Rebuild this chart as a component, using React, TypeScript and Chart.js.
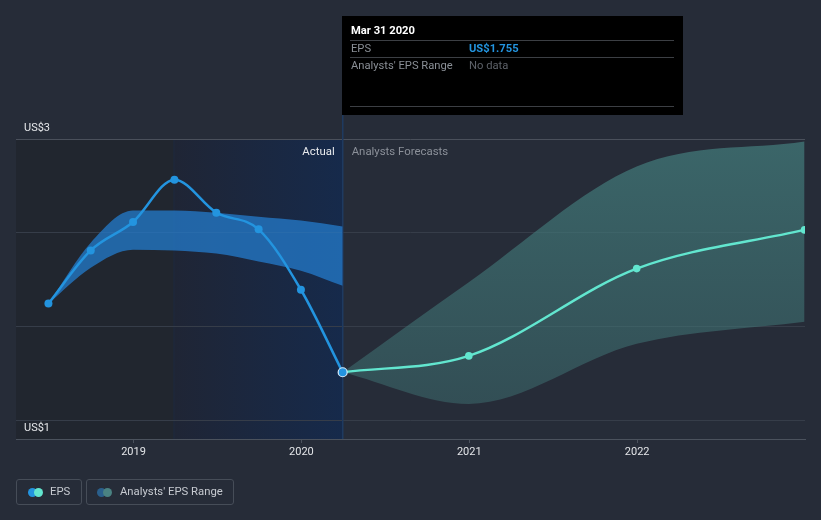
import React, { useEffect, useRef } from 'react';
import { Chart, registerables } from 'chart.js';

Chart.register(...registerables);

const actualDates = ['2018-06-30', '2018-09-30', '2018-12-31', '2019-03-31', '2019-06-30', '2019-09-30', '2019-12-31', '2020-03-31'];
const actualEps = [1.903, 2.257, 2.447, 2.729, 2.509, 2.398, 1.995, 1.445];
const actualRangeHigh = [1.903, 2.309, 2.524, 2.524, 2.509, 2.482, 2.456, 2.417];
const actualRangeLow = [1.903, 2.142, 2.262, 2.257, 2.236, 2.184, 2.122, 2.021];
const forecastDates = ['2020-03-31', '2020-12-31', '2021-12-31', '2022-12-31'];
const forecastEps = [1.445, 1.554, 2.136, 2.394];
const forecastHigh = [1.445, 2.045, 2.816, 2.983];
const forecastLow = [1.445, 1.234, 1.635, 1.782];
const yearTicks = [2019, 2020, 2021, 2022];
const yTickValues = [1, 1.125, 1.75, 2.375, 3];
const yTickLabels: Record<string, string> = { '1': 'US$1', '3': 'US$3' };

const FONT = 'Roboto, "Noto Sans", sans-serif';

function toYear(s: string): number {
  const [y, m, d] = s.split('-').map(Number);
  const start = Date.UTC(y, 0, 1);
  const end = Date.UTC(y + 1, 0, 1);
  return y + (Date.UTC(y, m - 1, d) - start) / (end - start);
}

const pts = (dates: string[], vals: number[]) => dates.map((d, i) => ({ x: toYear(d), y: vals[i] }));

const bgPlugin = {
  id: 'bgPlugin',
  beforeDraw(chart: any) {
    const { ctx, chartArea: a, scales } = chart;
    const xs = scales.x;
    const xNow = xs.getPixelForValue(toYear('2020-03-31'));
    const xHl = xs.getPixelForValue(toYear('2019-03-31'));
    ctx.save();
    ctx.fillStyle = '#262c38';
    ctx.fillRect(0, 0, chart.width, chart.height);
    ctx.fillStyle = '#21262f';
    ctx.fillRect(a.left, a.top, xNow - a.left, a.bottom - a.top);
    const g = ctx.createLinearGradient(xHl, 0, xNow, 0);
    g.addColorStop(0, '#1f2535');
    g.addColorStop(1, '#162a4b');
    ctx.fillStyle = g;
    ctx.fillRect(xHl, a.top, xNow - xHl, a.bottom - a.top);
    ctx.fillStyle = '#1c2940';
    ctx.fillRect(Math.round(xHl) - 0.5, a.top, 1, a.bottom - a.top);
    ctx.restore();
  },
  beforeDatasetsDraw(chart: any) {
    const { ctx, chartArea: a, scales } = chart;
    const xNow = scales.x.getPixelForValue(toYear('2020-03-31'));
    ctx.save();
    ctx.fillStyle = '#1e3a60';
    ctx.fillRect(Math.round(xNow) - 1, 115, 1.5, a.bottom - 115);
    ctx.restore();
  },
  afterDraw(chart: any) {
    const { ctx, chartArea: a, scales } = chart;
    const xNow = scales.x.getPixelForValue(toYear('2020-03-31'));
    ctx.save();
    ctx.textBaseline = 'middle';
    ctx.font = `11.4px ${FONT}`;
    ctx.textAlign = 'right';
    ctx.fillStyle = '#e8eaed';
    ctx.fillText('Actual', xNow - 8, a.top + 13.5);
    ctx.textAlign = 'left';
    ctx.fillStyle = '#8b9099';
    ctx.fillText('Analysts Forecasts', xNow + 9, a.top + 13.5);

    // tooltip box
    const bx = Math.round(xNow) - 1;
    ctx.fillStyle = '#000000';
    ctx.fillRect(bx, 16, 341, 99);
    ctx.fillStyle = '#3c3f44';
    ctx.fillRect(bx + 8, 40, 324, 1);
    ctx.fillRect(bx + 8, 57, 324, 1);
    ctx.fillRect(bx + 8, 106, 324, 1);
    ctx.font = `bold 11.2px ${FONT}`;
    ctx.fillStyle = '#ffffff';
    ctx.fillText('Mar 31 2020', bx + 9, 31);
    ctx.font = `11.2px ${FONT}`;
    ctx.fillStyle = '#8a8f96';
    ctx.fillText('EPS', bx + 9, 49);
    ctx.fillText("Analysts' EPS Range", bx + 9, 66);
    ctx.font = `bold 11.2px ${FONT}`;
    ctx.fillStyle = '#2394df';
    ctx.fillText('US$1.755', bx + 127, 49);
    ctx.font = `11.2px ${FONT}`;
    ctx.fillStyle = '#5d6168';
    ctx.fillText('No data', bx + 127, 66);
    ctx.restore();
  },
};

export default function App() {
  const ref = useRef<HTMLCanvasElement | null>(null);

  useEffect(() => {
    if (!ref.current) return;
    const nA = actualDates.length;
    const chart = new Chart(ref.current, {
      type: 'line',
      data: {
        datasets: [
          {
            label: 'EPS',
            data: pts(actualDates, actualEps),
            borderColor: '#2394df',
            borderWidth: 2.5,
            cubicInterpolationMode: 'monotone',
            pointRadius: actualEps.map((_, i) => (i === nA - 1 ? 4.5 : 4)),
            pointBackgroundColor: '#2394df',
            pointBorderColor: actualEps.map((_, i) => (i === nA - 1 ? '#d8ecfb' : '#2394df')),
            pointBorderWidth: actualEps.map((_, i) => (i === nA - 1 ? 1.2 : 0)),
            fill: false,
            order: 0,
          } as any,
          {
            label: 'EPS Forecast',
            data: pts(forecastDates, forecastEps),
            borderColor: '#62e6cf',
            borderWidth: 2.5,
            cubicInterpolationMode: 'monotone',
            pointRadius: forecastEps.map((_, i) => (i === 0 ? 0 : 3.8)),
            pointBackgroundColor: '#62e6cf',
            pointBorderWidth: 0,
            fill: false,
            order: 1,
          } as any,
          {
            label: 'Actual range high',
            data: pts(actualDates, actualRangeHigh),
            borderWidth: 0,
            borderColor: 'rgba(0,0,0,0)',
            pointRadius: 0,
            cubicInterpolationMode: 'monotone',
            fill: '+1',
            backgroundColor: 'rgba(36,122,202,0.76)',
            order: 2,
          } as any,
          {
            label: 'Actual range low',
            data: pts(actualDates, actualRangeLow),
            borderWidth: 0,
            borderColor: 'rgba(0,0,0,0)',
            pointRadius: 0,
            cubicInterpolationMode: 'monotone',
            fill: false,
            order: 3,
          } as any,
          {
            label: "Analysts' EPS Range",
            data: pts(forecastDates, forecastHigh),
            borderWidth: 0,
            borderColor: 'rgba(0,0,0,0)',
            pointRadius: 0,
            cubicInterpolationMode: 'monotone',
            fill: '+1',
            backgroundColor: (c: any) => {
              const a = c.chart.chartArea;
              if (!a) return 'rgba(66,122,122,0.6)';
              const g = c.chart.ctx.createLinearGradient(0, a.top, 0, a.bottom);
              g.addColorStop(0, 'rgba(66,122,122,0.74)');
              g.addColorStop(1, 'rgba(66,122,122,0.4)');
              return g;
            },
            order: 4,
          } as any,
          {
            label: 'Forecast low',
            data: pts(forecastDates, forecastLow),
            borderWidth: 0,
            borderColor: 'rgba(0,0,0,0)',
            pointRadius: 0,
            cubicInterpolationMode: 'monotone',
            fill: false,
            order: 5,
          } as any,
        ],
      },
      options: {
        animation: false,
        responsive: false,
        maintainAspectRatio: false,
        layout: { padding: { left: 16, right: 16, top: 139, bottom: 0 } },
        plugins: { legend: { display: false }, tooltip: { enabled: false } },
        events: [],
        scales: {
          x: {
            type: 'linear',
            min: 2018.3,
            max: 2023.0,
            afterBuildTicks: (s: any) => {
              s.ticks = yearTicks.map((v) => ({ value: v }));
            },
            afterFit: (s: any) => {
              s.height = 81;
            },
            grid: { drawOnChartArea: false, drawTicks: true, tickLength: 4, color: '#4b525d' },
            border: { display: true, color: '#4b525d', width: 1 },
            ticks: {
              color: '#e3e5e8',
              font: { family: FONT, size: 11 },
              padding: 3,
              maxRotation: 0,
              callback: (v: any) => String(v),
            },
          },
          y: {
            type: 'linear',
            min: 1,
            max: 3,
            afterBuildTicks: (s: any) => {
              s.ticks = yTickValues.map((v) => ({ value: v }));
            },
            afterFit: (s: any) => {
              s.width = 0;
            },
            grid: {
              drawTicks: false,
              color: (c: any) => (c.tick && Math.abs(c.tick.value - 3) < 1e-6 ? '#4a505b' : '#363d49'),
            },
            border: { display: false },
            ticks: {
              mirror: true,
              padding: 8,
              labelOffset: -10.5,
              color: '#e6e8eb',
              font: { family: FONT, size: 11 },
              callback: (v: any) => {
                const k = String(Math.round(Number(v) * 1000) / 1000);
                return yTickLabels[k] ?? '';
              },
            },
          },
        },
      },
      plugins: [bgPlugin],
    } as any);
    return () => chart.destroy();
  }, []);

  const boxStyle: React.CSSProperties = {
    position: 'absolute',
    top: 479,
    height: 26,
    border: '1px solid #464d58',
    borderRadius: 3,
    boxSizing: 'border-box',
  };
  const dot = (left: number, color: string): React.CSSProperties => ({
    position: 'absolute',
    left,
    top: 8,
    width: 9,
    height: 9,
    borderRadius: '50%',
    background: color,
  });
  const label = (left: number): React.CSSProperties => ({
    position: 'absolute',
    left,
    top: 0,
    lineHeight: '24px',
    fontFamily: FONT,
    fontSize: 11.3,
    color: '#c6cad0',
    whiteSpace: 'nowrap',
  });

  return (
    <div style={{ position: 'fixed', left: 0, top: 0, width: 821, height: 520, background: '#262c38', overflow: 'hidden' }}>
      <canvas ref={ref} width={821} height={520} style={{ position: 'absolute', left: 0, top: 0, width: 821, height: 520 }} />
      <div style={{ ...boxStyle, left: 16, width: 66 }}>
        <div style={dot(11, '#2394df')} />
        <div style={dot(17, '#62e6cf')} />
        <div style={label(33)}>EPS</div>
      </div>
      <div style={{ ...boxStyle, left: 86, width: 148 }}>
        <div style={dot(10, '#2a5f8c')} />
        <div style={dot(16, '#4a8282')} />
        <div style={label(33)}>Analysts' EPS Range</div>
      </div>
    </div>
  );
}
